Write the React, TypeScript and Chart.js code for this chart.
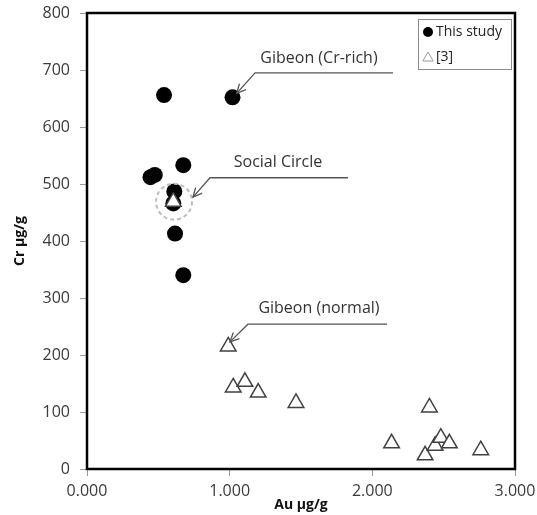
import React, { useEffect, useRef } from "react";
import { Chart, registerables } from "chart.js";

Chart.register(...registerables);

// ---- data ----
const studyAu = [0.54, 1.02, 0.445, 0.475, 0.675, 0.612, 0.605, 0.617, 0.675];
const studyCr = [656, 652, 512, 516, 533, 487, 466, 413, 340];
const refAu = [0.605, 0.99, 1.025, 1.107, 1.2, 1.465, 2.135, 2.37, 2.4, 2.44, 2.48, 2.54, 2.76];
const refCr = [469, 215, 143, 153, 134, 116, 45, 24, 108, 41, 55, 45, 33];
const xTickValues = [0, 1, 2, 3];
const yTickValues = [0, 100, 200, 300, 400, 500, 600, 700, 800];
const legendLabels = ["This study", "[3]"];
const xTitle = "Au µg/g";
const yTitle = "Cr µg/g";

// annotations: label, label position, line end, elbow, arrow tip (data coordinates)
const annLabels = ["Gibeon (Cr-rich)", "Social Circle", "Gibeon (normal)"];
const annText = [[1.626, 721], [1.339, 537], [1.626, 282]];
const annLineEnd = [[2.145, 695], [1.829, 511], [2.103, 254]];
const annElbow = [[1.178, 695], [0.862, 511], [1.128, 254]];
const annTip = [[1.049, 659], [0.743, 477], [1.002, 223]];
const highlightCenter = [0.61, 469];

const FONT = "'Open Sans', 'Noto Sans', sans-serif";

const overlayPlugin = {
  id: "overlay",
  afterDatasetsDraw(chart: any) {
    const { ctx, scales } = chart;
    const xs = scales.x;
    const ys = scales.y;
    ctx.save();
    ctx.strokeStyle = "#bdbdbd";
    ctx.lineWidth = 2;
    ctx.setLineDash([4, 3]);
    ctx.beginPath();
    ctx.arc(xs.getPixelForValue(highlightCenter[0]), ys.getPixelForValue(highlightCenter[1]), 18, 0, Math.PI * 2);
    ctx.stroke();
    ctx.restore();
  },
  afterDraw(chart: any) {
    const { ctx, chartArea, scales } = chart;
    const xs = scales.x;
    const ys = scales.y;
    const px = (p: number[]) => [xs.getPixelForValue(p[0]), ys.getPixelForValue(p[1])];
    ctx.save();
    // frame
    ctx.strokeStyle = "#000";
    ctx.lineWidth = 2.5;
    ctx.strokeRect(chartArea.left, chartArea.top, chartArea.right - chartArea.left, chartArea.bottom - chartArea.top);

    // annotations
    for (let i = 0; i < annLabels.length; i++) {
      const t = px(annText[i]);
      ctx.fillStyle = "#333";
      ctx.font = `16px ${FONT}`;
      ctx.textAlign = "center";
      ctx.textBaseline = "middle";
      ctx.fillText(annLabels[i], t[0], t[1]);
      const a = px(annLineEnd[i]);
      const b = px(annElbow[i]);
      const c = px(annTip[i]);
      ctx.strokeStyle = "#555";
      ctx.lineWidth = 1.3;
      ctx.beginPath();
      ctx.moveTo(a[0], a[1]);
      ctx.lineTo(b[0], b[1]);
      ctx.lineTo(c[0], c[1]);
      ctx.stroke();
      const ang = Math.atan2(b[1] - c[1], b[0] - c[0]);
      const L = 10;
      ctx.beginPath();
      ctx.moveTo(c[0] + L * Math.cos(ang + 0.45), c[1] + L * Math.sin(ang + 0.45));
      ctx.lineTo(c[0], c[1]);
      ctx.lineTo(c[0] + L * Math.cos(ang - 0.45), c[1] + L * Math.sin(ang - 0.45));
      ctx.stroke();
    }

    // legend
    const lx = chartArea.right - 97;
    const ly = chartArea.top + 6;
    const lw = 93;
    const lh = 50;
    ctx.fillStyle = "#fff";
    ctx.fillRect(lx, ly, lw, lh);
    ctx.strokeStyle = "#8c8c8c";
    ctx.lineWidth = 1;
    ctx.strokeRect(lx + 0.5, ly + 0.5, lw, lh);
    ctx.font = `14px ${FONT}`;
    ctx.textAlign = "left";
    ctx.textBaseline = "middle";
    ctx.fillStyle = "#000";
    ctx.beginPath();
    ctx.arc(lx + 10, ly + 13, 5, 0, Math.PI * 2);
    ctx.fill();
    ctx.fillStyle = "#222";
    ctx.fillText(legendLabels[0], lx + 18, ly + 13);
    // triangle
    const tx = lx + 10;
    const ty = ly + 38;
    const r = 6;
    ctx.strokeStyle = "#999";
    ctx.lineWidth = 1;
    ctx.beginPath();
    for (let k = 0; k < 3; k++) {
      const an = (k * 2 * Math.PI) / 3;
      const vx = tx + Math.sin(an) * r;
      const vy = ty - Math.cos(an) * r + 1;
      if (k === 0) ctx.moveTo(vx, vy);
      else ctx.lineTo(vx, vy);
    }
    ctx.closePath();
    ctx.stroke();
    ctx.fillStyle = "#222";
    ctx.fillText(legendLabels[1], lx + 18, ly + 38);

    // axis titles
    ctx.fillStyle = "#111";
    ctx.font = `bold 14px ${FONT}`;
    ctx.textAlign = "center";
    ctx.textBaseline = "middle";
    ctx.fillText(xTitle, (chartArea.left + chartArea.right) / 2, 505);
    ctx.translate(20, (chartArea.top + chartArea.bottom) / 2);
    ctx.rotate(-Math.PI / 2);
    ctx.fillText(yTitle, 0, 0);
    ctx.restore();
  },
};

export default function App() {
  const ref = useRef<HTMLCanvasElement | null>(null);
  useEffect(() => {
    if (!ref.current) return;
    const chart = new Chart(ref.current, {
      type: "scatter",
      data: {
        datasets: [
          {
            label: legendLabels[1],
            data: refAu.map((x, i) => ({ x, y: refCr[i] })),
            pointStyle: "triangle",
            pointRadius: 9,
            pointBackgroundColor: "#fff",
            pointBorderColor: "#404040",
            pointBorderWidth: 1.5,
            order: 0,
          },
          {
            label: legendLabels[0],
            data: studyAu.map((x, i) => ({ x, y: studyCr[i] })),
            pointStyle: "circle",
            pointRadius: 8,
            pointBackgroundColor: "#000",
            pointBorderColor: "#000",
            pointBorderWidth: 0,
            order: 1,
          },
        ],
      },
      options: {
        animation: false,
        responsive: true,
        maintainAspectRatio: false,
        layout: { padding: { top: 13, right: 22, left: 0, bottom: 0 } },
        plugins: { legend: { display: false }, tooltip: { enabled: false } },
        scales: {
          x: {
            type: "linear",
            min: 0,
            max: 3,
            afterBuildTicks: (s: any) => {
              s.ticks = xTickValues.map((v) => ({ value: v }));
            },
            afterFit: (s: any) => {
              s.height = 46;
              s.paddingLeft = 0;
              s.paddingRight = 0;
            },
            ticks: {
              callback: (v: any) => Number(v).toFixed(3),
              font: { family: FONT, size: 16 },
              color: "#3a3a3a",
              padding: 6,
              maxRotation: 0,
            },
            grid: { drawOnChartArea: false, drawTicks: true, tickLength: 7, color: "#999" },
            border: { display: false },
          },
          y: {
            type: "linear",
            min: 0,
            max: 800,
            afterBuildTicks: (s: any) => {
              s.ticks = yTickValues.map((v) => ({ value: v }));
            },
            afterFit: (s: any) => {
              s.width = 87;
              s.paddingTop = 0;
              s.paddingBottom = 0;
            },
            ticks: {
              font: { family: FONT, size: 16 },
              color: "#3a3a3a",
              padding: 10,
            },
            grid: { drawOnChartArea: false, drawTicks: true, tickLength: 7, color: "#999" },
            border: { display: false },
          },
        },
      },
      plugins: [overlayPlugin],
    });
    return () => chart.destroy();
  }, []);
  return (
    <div style={{ position: "fixed", left: 0, top: 0, width: 537, height: 515, background: "#fff" }}>
      <canvas ref={ref} />
    </div>
  );
}
